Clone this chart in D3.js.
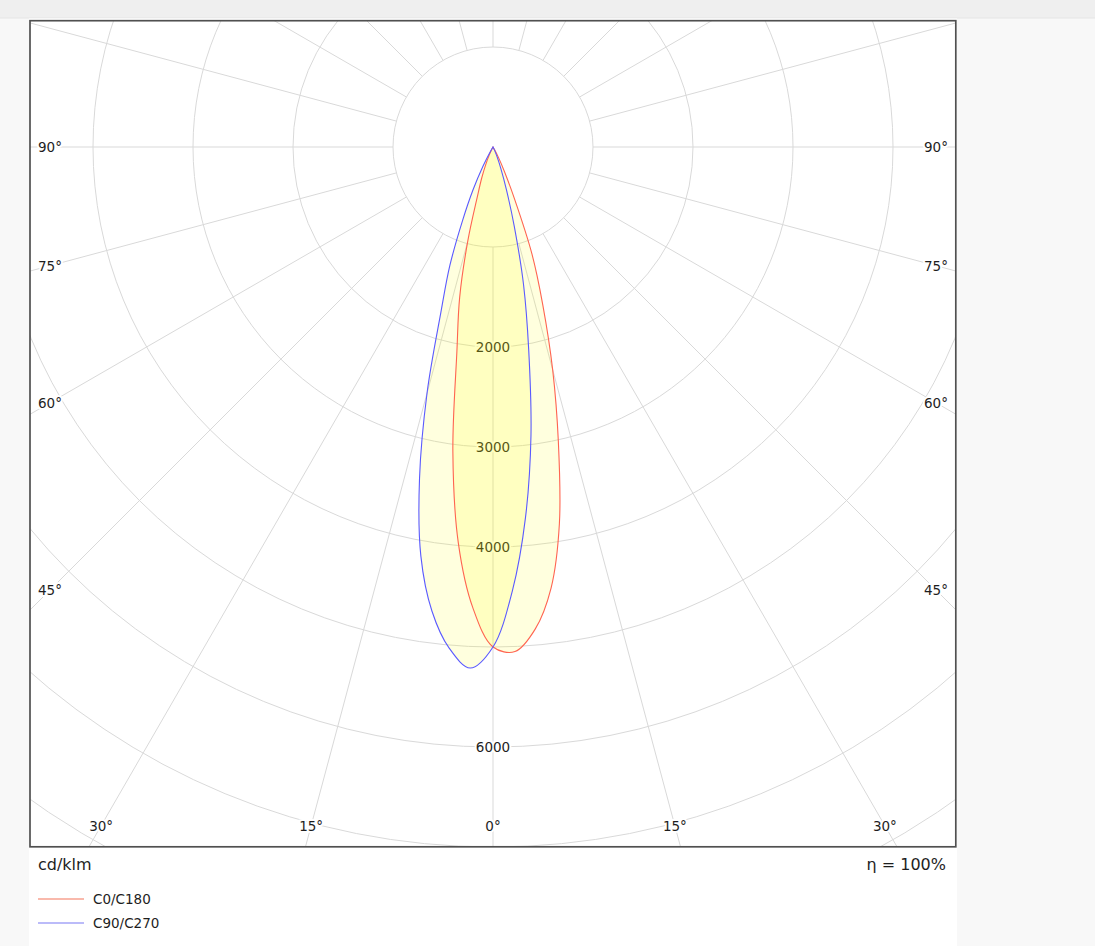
<!DOCTYPE html>
<html><head><meta charset="utf-8">
<script src="https://cdn.jsdelivr.net/npm/d3@7"></script>
<style>
html,body{margin:0;padding:0;background:#f8f8f8;}
svg{display:block;}
text{font-family:"DejaVu Sans",Verdana,sans-serif;fill:#1e1e1e;}
</style></head><body>
<svg id="chart" width="1095" height="946"></svg>
<script>
// ---- data (cd/klm) ----
const gammaAngles = [0,2.5,5,7.5,10,12.5,15,17.5,20,22.5,25,27.5,30,32.5,35,40,45,50,60,70,80,90];
const c0   = [5000,5050,4840,4449,3824,3020,2305,1657,1140,562,270,120,30,0,0,0,0,0,0,0,0,0];
const c180 = [5000,4613,3976,3075,2080,1540,975,520,330,190,90,30,0,0,0,0,0,0,0,0,0,0];
const c90  = [5000,4442,3723,2909,2055,1413,826,444,230,110,40,0,0,0,0,0,0,0,0,0,0,0];
const c270 = [5000,5215,5030,4680,4154,3395,2549,1732,1261,794,472,220,60,0,0,0,0,0,0,0,0,0];
const seriesNames = ["C0/C180","C90/C270"];
const intensityTicks = [1000,2000,3000,4000,5000,6000,7000,8000,9000];
const labeledTicks = [2000,3000,4000,6000];
const spokeAngles = d3.range(0,360,15);
const labelAngles = [0,15,30,45,60,75,90];
const unitLabel = "cd/klm";
const efficiencyLabel = "η = 100%";

// ---- layout ----
const svg = d3.select("#chart");
const W = 1095, H = 946;
const frame = {x:30, y:20.7, w:925.8, h:826.1};
const cx = 493, cy = 147;
const rad = d => d*Math.PI/180;
const r = d3.scaleLinear().domain([0,1000]).range([0,100]);

svg.append("rect").attr("width",W).attr("height",H).attr("fill","#f8f8f8");
svg.append("rect").attr("width",W).attr("height",18).attr("fill","#efefef");
svg.append("line").attr("x1",0).attr("x2",W).attr("y1",18).attr("y2",18).attr("stroke","#e4e4e4");
svg.append("rect").attr("x",29).attr("y",18.5).attr("width",928).attr("height",H-18.5).attr("fill","#fff");

const defs = svg.append("defs");
defs.append("clipPath").attr("id","clip").append("rect")
  .attr("x",frame.x).attr("y",frame.y).attr("width",frame.w).attr("height",frame.h);

const plot = svg.append("g").attr("clip-path","url(#clip)");
const g = plot.append("g").attr("transform",`translate(${cx},${cy})`);

// grid circles
g.selectAll("circle.grid").data(intensityTicks).join("circle")
  .attr("class","grid").attr("r",d=>r(d)).attr("fill","none")
  .attr("stroke","#d9d9d9").attr("stroke-width",1);

// spokes (angle measured from nadir)
g.selectAll("line.spoke").data(spokeAngles).join("line")
  .attr("x1",a=>r(1000)*Math.sin(rad(a))).attr("y1",a=>r(1000)*Math.cos(rad(a)))
  .attr("x2",a=>r(12000)*Math.sin(rad(a))).attr("y2",a=>r(12000)*Math.cos(rad(a)))
  .attr("stroke","#d9d9d9").attr("stroke-width",1);

// intensity labels
g.selectAll("text.ilab").data(labeledTicks).join("text")
  .attr("x",0).attr("y",d=>r(d)).attr("dy","0.36em")
  .attr("text-anchor","middle").style("font-size","13.5px")
  .attr("stroke","#fff").attr("stroke-width",4).attr("paint-order","stroke")
  .text(d=>d);

// angle labels: where spoke meets inset box
const inL = cx - (frame.x+20), inB = (frame.y+frame.h-21) - cy;
const angLabels = [];
labelAngles.forEach(a=>{
  [-1,1].forEach(s=>{
    if(a===0 && s===1) return;
    const sx = Math.sin(rad(a)), cy_ = Math.cos(rad(a));
    const tSide = sx>1e-9 ? inL/sx : Infinity;
    const tBot = cy_>1e-9 ? inB/cy_ : Infinity;
    const t = Math.min(tSide,tBot);
    angLabels.push({a, x: s*t*sx, y: t*cy_});
  });
});
g.selectAll("text.alab").data(angLabels).join("text")
  .attr("x",d=>d.x).attr("y",d=>d.y).attr("dy","0.36em")
  .attr("text-anchor","middle").style("font-size","13.5px")
  .attr("stroke","#fff").attr("stroke-width",4).attr("paint-order","stroke")
  .text(d=>d.a+"°");

// curves
function curvePoints(left,right){
  const pts=[];
  for(let i=gammaAngles.length-1;i>=0;i--) pts.push([Math.PI+rad(gammaAngles[i]), r(left[i])]);
  for(let i=1;i<gammaAngles.length;i++) pts.push([Math.PI-rad(gammaAngles[i]), r(right[i])]);
  return pts.filter((p,i)=> p[1]>0 || (pts[i-1]&&pts[i-1][1]>0) || (pts[i+1]&&pts[i+1][1]>0));
}
const radial = d3.lineRadial().angle(d=>d[0]).radius(d=>d[1]).curve(d3.curveCatmullRom.alpha(0.5));
const series = [
  {name:seriesNames[0], pts:curvePoints(c180,c0), color:"#ff6450", legend:"#f7a291"},
  {name:seriesNames[1], pts:curvePoints(c270,c90), color:"#5a5aff", legend:"#a5a5f7"}
];
g.selectAll("path.fill").data(series).join("path")
  .attr("d",d=>radial(d.pts)+"Z").attr("fill","#ffff00").attr("fill-opacity",0.13).attr("stroke","none");
g.selectAll("path.line").data(series).join("path")
  .attr("d",d=>radial(d.pts)+"Z").attr("fill","none").attr("stroke",d=>d.color).attr("stroke-width",1.1);

// frame
svg.append("rect").attr("x",frame.x).attr("y",frame.y).attr("width",frame.w).attr("height",frame.h)
  .attr("fill","none").attr("stroke","#505050").attr("stroke-width",1.7);

// footer
svg.append("text").attr("x",38).attr("y",870).style("font-size","16px").text(unitLabel);
svg.append("text").attr("x",946).attr("y",870).attr("text-anchor","end").style("font-size","16px").text(efficiencyLabel);

const leg = svg.selectAll("g.leg").data(series).join("g").attr("class","leg")
  .attr("transform",(d,i)=>`translate(38,${899+i*24})`);
leg.append("line").attr("x1",0).attr("x2",46).attr("y1",0).attr("y2",0)
  .attr("stroke",d=>d.legend).attr("stroke-width",1.5);
leg.append("text").attr("x",55).attr("y",0).attr("dy","0.38em").style("font-size","13.5px").text(d=>d.name);
</script>
</body></html>
